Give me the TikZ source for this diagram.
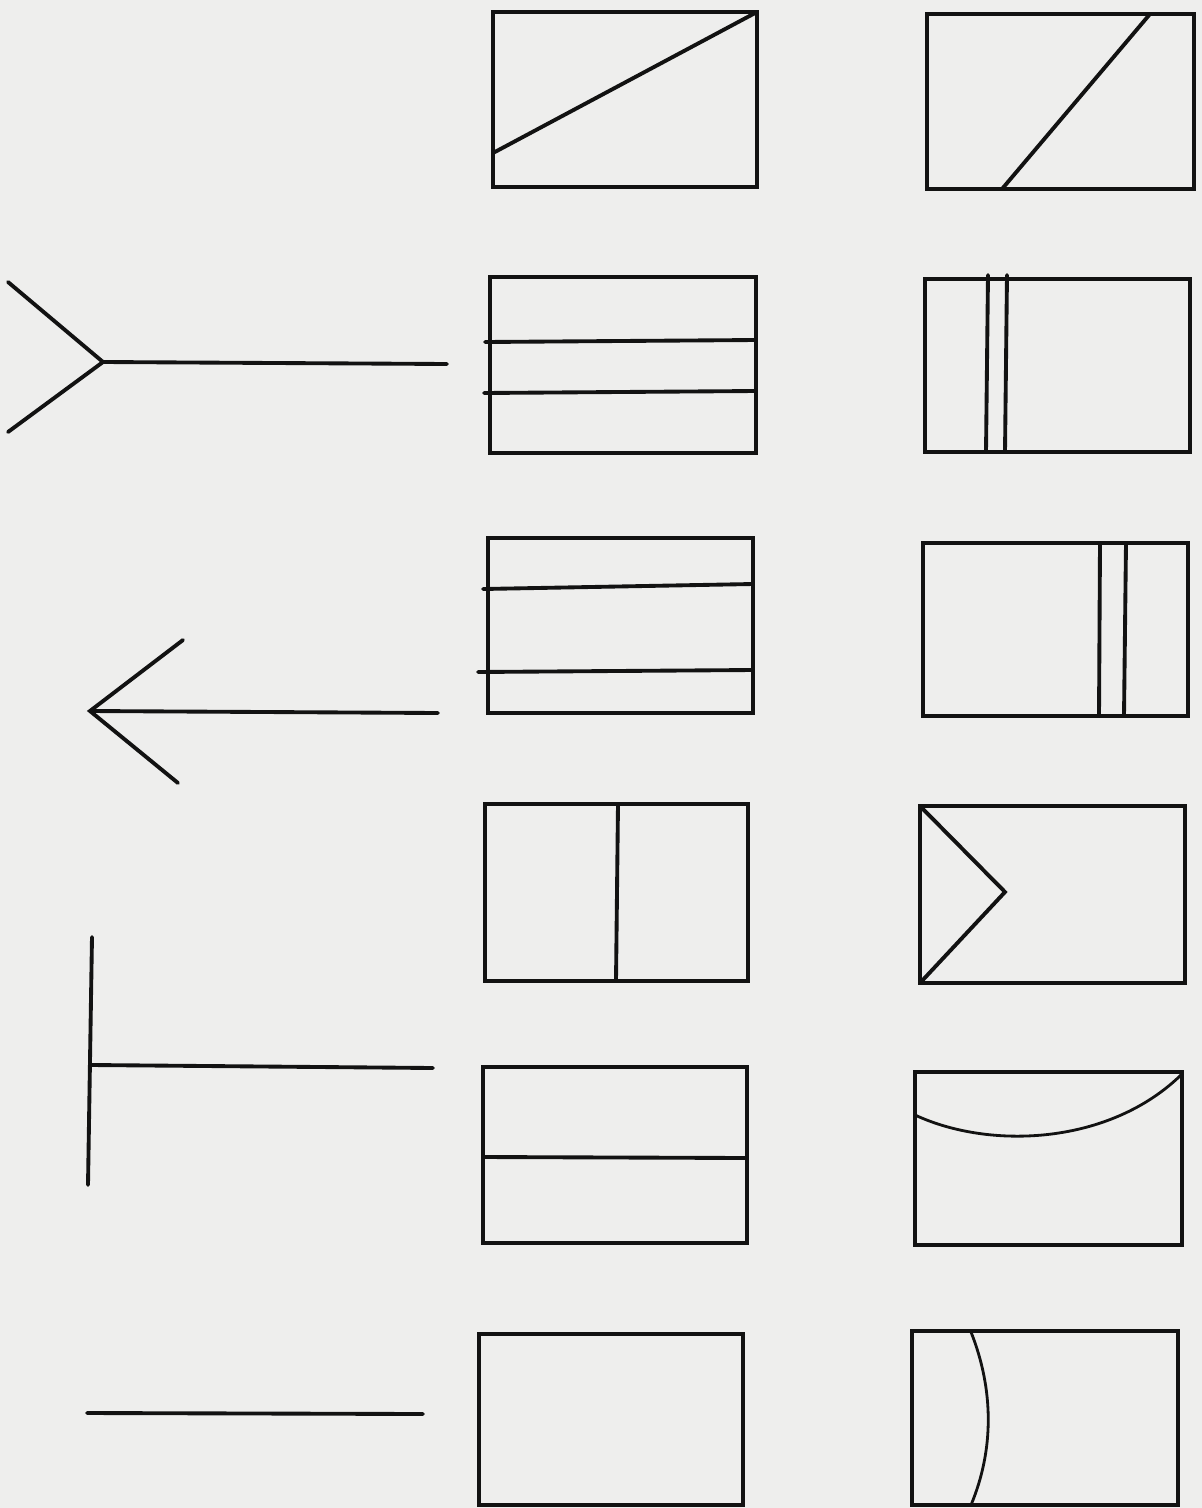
\documentclass[tikz,border=0pt]{standalone}
\definecolor{paper}{RGB}{238,238,237}
\definecolor{ink}{RGB}{18,18,18}
\begin{document}
\begin{tikzpicture}[x=0.02cm,y=-0.02cm,
  frame/.style={draw=ink,line width=2.6pt,line join=miter},
  stroke/.style={draw=ink,line width=2.2pt,line cap=round},
  thin stroke/.style={draw=ink,line width=1.6pt,line cap=round}]
\fill[paper] (0,0) rectangle (1202,1508);
\useasboundingbox (0,0) rectangle (1202,1508);
% left column symbols
\draw[stroke] (8,282) -- (103,362) -- (8,432);
\draw[stroke] (103,362) -- (447,364);
\draw[stroke] (183,640) -- (90,711) -- (178,783);
\draw[stroke] (90,711) -- (438,713);
\draw[stroke] (92,937) -- (88,1185);
\draw[stroke] (92,1065) -- (433,1068);
\draw[stroke] (87,1413) -- (423,1414);
% row 1
\draw[frame] (493,12) rectangle (757,187);
\draw[stroke] (493,153) -- (757,12);
\draw[frame] (927,14) rectangle (1194,189);
\draw[stroke] (1002,189) -- (1150,14);
% row 2
\draw[frame] (490,277) rectangle (756,453);
\draw[stroke] (485,342) -- (756,340);
\draw[stroke] (484,393) -- (756,391);
\draw[frame] (925,279) rectangle (1190,452);
\draw[stroke] (988,275) -- (986,452);
\draw[stroke] (1007,275) -- (1005,452);
% row 3
\draw[frame] (488,538) rectangle (753,713);
\draw[stroke] (483,589) -- (753,584);
\draw[stroke] (478,672) -- (753,670);
\draw[frame] (923,543) rectangle (1188,716);
\draw[stroke] (1100,543) -- (1099,716);
\draw[stroke] (1126,543) -- (1124,716);
% row 4
\draw[frame] (485,804) rectangle (748,981);
\draw[stroke] (618,804) -- (616,981);
\draw[frame] (920,806) rectangle (1185,983);
\draw[stroke] (920,806) -- (1005,892) -- (920,983);
% row 5
\draw[frame] (483,1067) rectangle (747,1243);
\draw[stroke] (483,1157) -- (747,1158);
\draw[frame] (915,1072) rectangle (1182,1245);
\draw[thin stroke] (915,1115) .. controls (990,1150) and (1110,1145) .. (1182,1074);
% row 6
\draw[frame] (479,1334) rectangle (743,1505);
\draw[frame] (912,1331) rectangle (1178,1505);
\draw[thin stroke] (971,1332) .. controls (994,1390) and (994,1450) .. (971,1505);
\end{tikzpicture}
\end{document}
